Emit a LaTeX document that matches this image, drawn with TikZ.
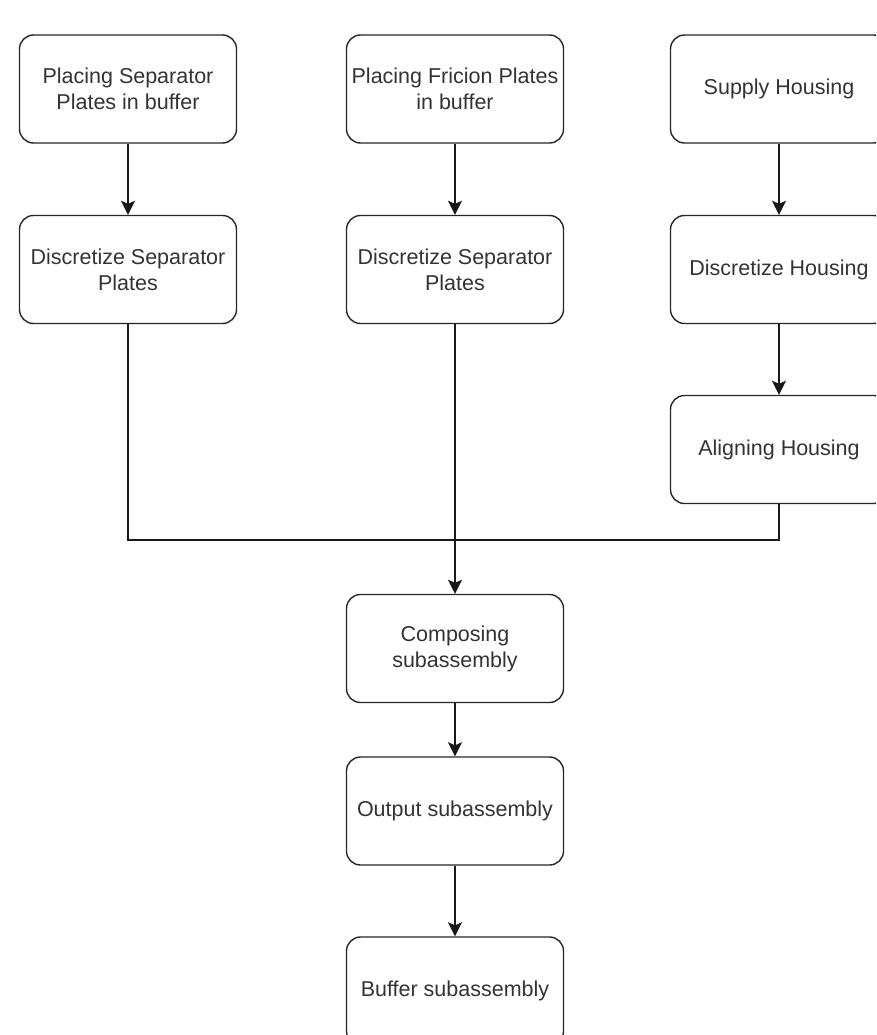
\documentclass[tikz,border=0pt]{standalone}
\usepackage{fontspec}
\setmainfont{Liberation Sans}
\usetikzlibrary{arrows.meta}
\begin{document}
\begin{tikzpicture}[x=1pt,y=-1pt,
  box/.style={draw=black!85, line width=1.4pt, rounded corners=14pt, minimum width=217pt, minimum height=108pt, inner sep=0pt, align=center, text=black!80, font=\fontsize{21.5}{26}\selectfont},
  flow/.style={draw=black!90, line width=1.5pt},
  arr/.style={flow, -{Stealth[length=14pt,width=14pt,inset=3pt]}}]
\useasboundingbox (0,0) rectangle (876,1035);
\clip (0,0) rectangle (876,1035);
\node[box] (p1) at (128,89) {Placing Separator\\Plates in buffer};
\node[box] (p2) at (455,89) {Placing Fricion Plates\\in buffer};
\node[box] (p3) at (779,89) {Supply Housing};
\node[box] (d1) at (128,269.5) {Discretize Separator\\Plates};
\node[box] (d2) at (455,269.5) {Discretize Separator\\Plates};
\node[box] (d3) at (779,269.5) {Discretize Housing};
\node[box] (al) at (779,449.5) {Aligning Housing};
\node[box] (cs) at (455,648.5) {Composing\\subassembly};
\node[box] (os) at (455,811) {Output subassembly};
\node[box] (bs) at (455,991) {Buffer subassembly};
\coordinate (j) at (455,540);
\draw[arr] (p1) -- (d1);
\draw[arr] (p2) -- (d2);
\draw[arr] (p3) -- (d3);
\draw[arr] (d3) -- (al);
\draw[flow] (d1.south) |- (j);
\draw[flow] (al.south) |- (j);
\draw[arr] (d2) -- (cs);
\draw[arr] (cs) -- (os);
\draw[arr] (os) -- (bs);
\end{tikzpicture}
\end{document}
